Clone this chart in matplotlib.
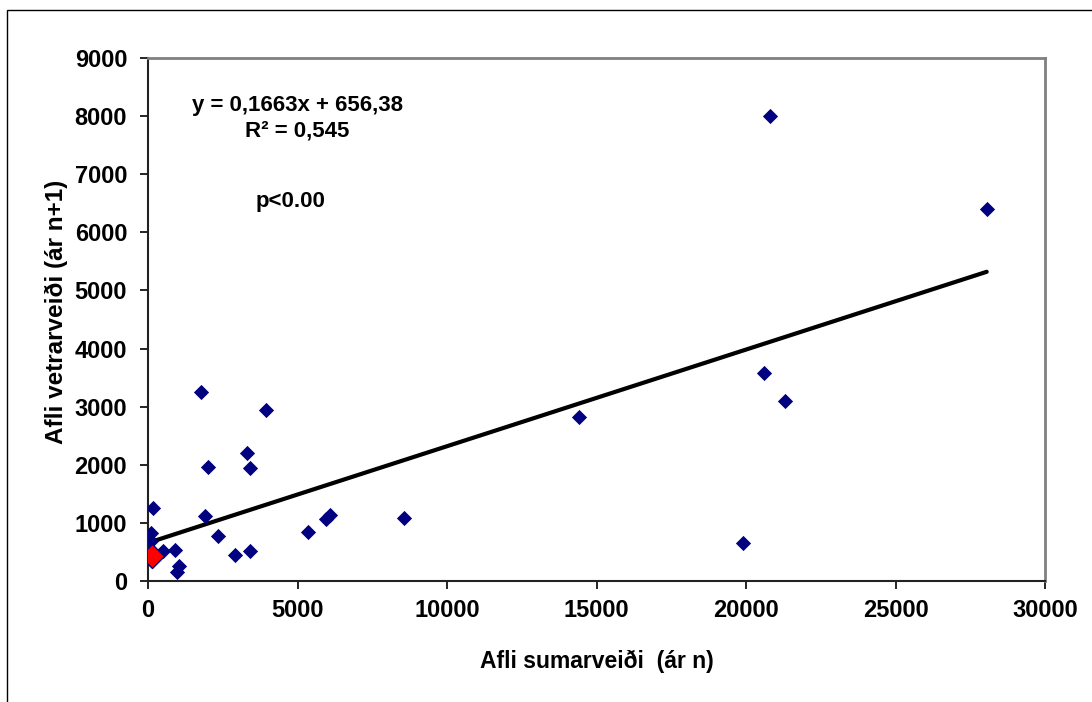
import matplotlib.pyplot as plt
from matplotlib.patches import Rectangle
import numpy as np

# Afli sumarveiði (ár n) og afli vetrarveiði (ár n+1)
sumar = [1770, 3950, 3300, 3400, 2000, 180, 1900, 90, 100, 2350, 500, 900, 2900, 3400,
         1050, 980, 70, 5350, 5950, 6100, 8550, 14400, 20800, 28050, 20600, 21300, 19900]
vetur = [3260, 2940, 2200, 1940, 1960, 1260, 1110, 820, 680, 770, 510, 540, 440, 520,
         250, 160, 480, 840, 1070, 1140, 1090, 2820, 8000, 6400, 3580, 3100, 650]

# síðasta árið (rauður punktur)
sumar_sidast = [145]
vetur_sidast = [436]

halli = 0.1663
skurdpunktur = 656.38

plt.rcParams['font.family'] = ['Liberation Sans', 'DejaVu Sans']
plt.rcParams['font.weight'] = 'bold'

fig = plt.figure(figsize=(10.92, 7.02), dpi=100)
ax = fig.add_axes([148 / 1092, 1 - 581 / 702, (1045 - 148) / 1092, (581 - 58) / 702])

# rammi utan um myndina
fig.patches.append(Rectangle((7 / 1092, -0.1), 1.2, 1 - 10 / 702 + 0.1, transform=fig.transFigure,
                             fill=False, edgecolor='black', linewidth=1.0))

ax.scatter(sumar, vetur, marker='D', s=60, color='#000080', zorder=3, linewidths=0)
ax.scatter(sumar_sidast, vetur_sidast, marker='D', s=150, color='red', edgecolor='#000080',
           linewidths=1.0, zorder=4)

# aðhvarfslína
xl = np.array([min(sumar), max(sumar)])
ax.plot(xl, halli * xl + skurdpunktur, color='black', linewidth=3, solid_capstyle='round', zorder=2)

ax.set_xlim(0, 30000)
ax.set_ylim(0, 9000)
ax.set_xticks(range(0, 30001, 5000))
ax.set_yticks(range(0, 9001, 1000))
ax.tick_params(axis='both', labelsize=17, direction='out', length=6, width=1.2)
ax.tick_params(axis='y', pad=9)
ax.tick_params(axis='x', pad=7)
for lab in ax.get_xticklabels() + ax.get_yticklabels():
    lab.set_fontweight('bold')

ax.spines['left'].set_color('#222222')
ax.spines['bottom'].set_color('#222222')
ax.spines['left'].set_linewidth(1.5)
ax.spines['bottom'].set_linewidth(1.5)
ax.spines['top'].set_color('#808080')
ax.spines['right'].set_color('#808080')
ax.spines['top'].set_linewidth(2)
ax.spines['right'].set_linewidth(2)

ax.set_xlabel('Afli sumarveiði  (ár n)', fontsize=16.5, fontweight='bold', labelpad=20)
ax.set_ylabel('Afli vetrarveiði (ár n+1)', fontsize=17.5, fontweight='bold', va='center')
ax.yaxis.set_label_coords(-0.1026, 0.514)

ax.text(297 / 1092, 1 - 118 / 702, 'y = 0,1663x + 656,38\nR² = 0,545', transform=fig.transFigure,
        ha='center', va='center', fontsize=16, fontweight='bold', linespacing=1.25)
ax.text(291 / 1092, 1 - 201 / 702, 'p<0.00', transform=fig.transFigure,
        ha='center', va='center', fontsize=16, fontweight='bold')

fig.savefig('out.png', dpi=100)
